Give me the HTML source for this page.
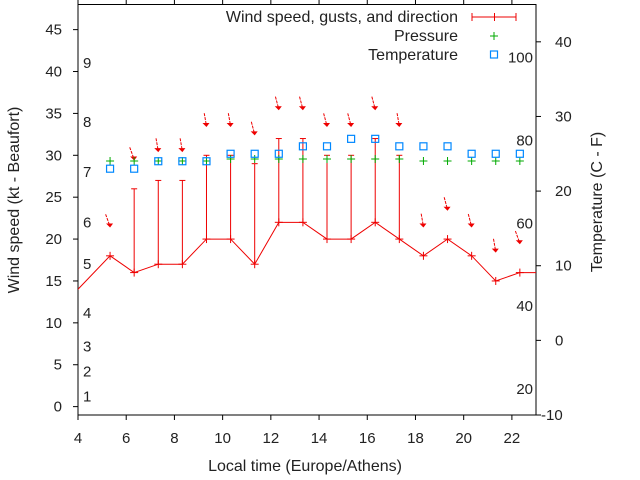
<!DOCTYPE html>
<html><head><meta charset="utf-8"><style>
body{margin:0;background:#fff}
svg{display:block;font-family:"Liberation Sans",Arial,sans-serif;font-size:15px;fill:#222}
.big{font-size:16px}
</style></head><body>
<svg id="chart" width="640" height="480" viewBox="0 0 640 480">
<defs><clipPath id="clip"><rect x="78" y="4.5" width="458" height="410.5"/></clipPath></defs>
<g id="axes"></g>
<g id="series" clip-path="url(#clip)"></g>
<g id="legend"></g>
</svg>
<script>
const hours=[3.33,5.33,6.33,7.33,8.33,9.33,10.33,11.33,12.33,13.33,14.33,15.33,16.33,17.33,18.33,19.33,20.33,21.33,22.33,23.33];
const windKt=[12,18,16,17,17,20,20,17,22,22,20,20,22,20,18,20,18,15,16,16];
const gustKt=[null,null,26,27,27,30,30,29,32,32,30,30,32,30,null,null,null,null,null,null];
const windDir=[345,340,340,350,350,350,350,345,345,345,345,345,345,350,350,345,345,350,340,340];
const ptHours=[5.33,6.33,7.33,8.33,9.33,10.33,11.33,12.33,13.33,14.33,15.33,16.33,17.33,18.33,19.33,20.33,21.33,22.33];
const pressure=[1014,1014,1014,1014,1014,1015,1015,1015,1015,1015,1015,1015,1015,1014,1014,1014,1014,1014];
const tempC=[23,23,24,24,24,25,25,25,26,26,27,27,26,26,26,25,25,25];
const xTicks=[4,6,8,10,12,14,16,18,20,22];
const yTicks=[0,5,10,15,20,25,30,35,40,45];
const cTicks=[-10,0,10,20,30,40];
const fLabels=[20,40,60,80,100];
const bftLabels=["1","2","3","4","5","6","7","8","9"];
const bftKt=[1.2,4.2,7.2,11.2,17,22,28,34,41];

const L=78,R=536,T=4.5,B=415;
const X=h=>L+(h-4)/(23-4)*(R-L);
const Y=v=>B-(v+1)/(48+1)*(B-T);
const YC=c=>B-(c+10)/55*(B-T);
const YF=f=>YC((f-32)*5/9);
const YP=p=>161-(p-1014)*2;
const NS="http://www.w3.org/2000/svg";
function mk(parent,tag,attrs,text){const e=document.createElementNS(NS,tag);for(const k in attrs)e.setAttribute(k,attrs[k]);if(text!==undefined)e.textContent=text;parent.appendChild(e);return e;}
const ax=document.getElementById('axes'),sr=document.getElementById('series'),lg=document.getElementById('legend');

let e=mk(ax,'rect',{x:L,y:T,width:R-L,height:B-T,fill:'none',stroke:'#000','stroke-width':1});


xTicks.forEach(h=>{
  mk(ax,'line',{x1:X(h),x2:X(h),y1:B,y2:B+5,stroke:'#000'});
  mk(ax,'line',{x1:X(h),x2:X(h),y1:T,y2:T-5,stroke:'#000'});
  const t=mk(ax,'text',{x:X(h),y:443,'text-anchor':'middle'},String(h));
  
  
});
yTicks.forEach(v=>{
  mk(ax,'line',{x1:L-5,x2:L,y1:Y(v),y2:Y(v),stroke:'#000'});
  const t=mk(ax,'text',{x:62,y:Y(v)+5,'text-anchor':'end'},String(v));
  
  
});
cTicks.forEach(c=>{
  mk(ax,'line',{x1:R,x2:R+5,y1:YC(c),y2:YC(c),stroke:'#000'});
  const t=mk(ax,'text',{x:c<0?541:555,y:YC(c)+5},String(c));
  
  
});
fLabels.forEach(f=>{
  const t=mk(ax,'text',{x:533,y:YF(f)+4,'text-anchor':'end'},String(f));
  
  
});
bftLabels.forEach((b,i)=>{
  const t=mk(ax,'text',{x:83,y:Y(bftKt[i])+5},b);
  
  
});
e=mk(ax,'text',{x:305,y:471,'text-anchor':'middle',class:'big'},'Local time (Europe/Athens)');


e=mk(ax,'text',{x:0,y:0,'text-anchor':'middle',class:'big',transform:'translate(19,200) rotate(-90)'},'Wind speed (kt - Beaufort)');


e=mk(ax,'text',{x:0,y:0,'text-anchor':'middle',class:'big',transform:'translate(602,202) rotate(-90)'},'Temperature (C - F)');



e=mk(sr,'polyline',{points:hours.map((h,i)=>X(h)+','+Y(windKt[i])).join(' '),fill:'none',stroke:'#e00','stroke-width':1});


hours.forEach((h,i)=>{
  const x=X(h),y=Y(windKt[i]);
  const g=mk(sr,'g',{stroke:'#e00','stroke-width':1});
  
  
  mk(g,'line',{x1:x-4,x2:x+4,y1:y,y2:y});
  mk(g,'line',{x1:x,x2:x,y1:y-4,y2:y+4});
  let top=windKt[i];
  if(gustKt[i]!==null){
    top=gustKt[i];
    const gy=Y(gustKt[i]);
    mk(g,'line',{x1:x,x2:x,y1:y,y2:gy});
    mk(g,'line',{x1:x-3,x2:x+3,y1:gy,y2:gy});
  }
  const hy=Y(top+3.5),a=windDir[i]*Math.PI/180;
  const dx=Math.sin(a)*13,dy=Math.cos(a)*13;
  const ag=mk(sr,'g',{stroke:'#e00',fill:'#e00'});
  
  
  mk(ag,'line',{x1:x+dx,y1:hy-dy,x2:x,y2:hy,'stroke-dasharray':'3,1'});
  mk(ag,'polygon',{points:`${x},${hy+1} ${x-4},${hy-3} ${x+3},${hy-3}`,stroke:'none'});
});
ptHours.forEach((h,i)=>{
  const x=X(h),y=YP(pressure[i]);
  const g=mk(sr,'g',{stroke:'#0a0'});
  
  
  mk(g,'line',{x1:x-4,x2:x+4,y1:y,y2:y});
  mk(g,'line',{x1:x,x2:x,y1:y-4,y2:y+4});
  const ty=YC(tempC[i]);
  const s=mk(sr,'rect',{x:x-3.5,y:ty-3.5,width:7,height:7,fill:'none',stroke:'#08f','stroke-width':1.2});
  
  
});

e=mk(lg,'text',{x:458,y:22,'text-anchor':'end',class:'big'},'Wind speed, gusts, and direction');


const lw=mk(lg,'g',{stroke:'#e00'});


mk(lw,'line',{x1:472,x2:516,y1:17,y2:17});
[472,494.5,516].forEach(x=>mk(lw,'line',{x1:x,x2:x,y1:13,y2:21}));
e=mk(lg,'text',{x:458,y:41,'text-anchor':'end',class:'big'},'Pressure');


const lp=mk(lg,'g',{stroke:'#0a0'});


mk(lp,'line',{x1:490,x2:498,y1:36,y2:36});mk(lp,'line',{x1:494,x2:494,y1:32,y2:40});
e=mk(lg,'text',{x:458,y:60,'text-anchor':'end',class:'big'},'Temperature');


e=mk(lg,'rect',{x:490.5,y:51,width:7,height:7,fill:'none',stroke:'#08f','stroke-width':1.2});


</script>
</body></html>
